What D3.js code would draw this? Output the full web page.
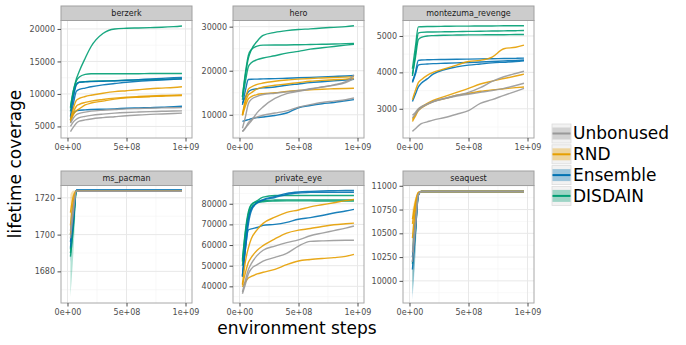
<!DOCTYPE html>
<html>
<head>
<meta charset="utf-8">
<script src="https://cdn.jsdelivr.net/npm/d3@7"></script>
<style>
  body { margin: 0; background: #fff; }
  svg { font-family: "DejaVu Sans", sans-serif; }
</style>
</head>
<body>
<div id="main-chart"></div>
<script>
// environment steps shared by every run
const steps = [2.5e7, 5e7, 7.5e7, 1e8, 1.5e8, 2e8, 3e8, 4e8, 5e8, 6e8, 7e8, 8e8, 9e8, 9.7e8];

const seriesNames = ['Unbonused', 'RND', 'Ensemble', 'DISDAIN'];
const seriesColors = ['#999999', '#E69F00', '#0072B2', '#009E73'];

const xTicks = [0, 5e8, 1e9];

// one row per run: [series, lifetime coverage at each step]
const berzerk = [
  ['Unbonused', [4200, 4900, 5500, 5800, 6000, 6150, 6350, 6500, 6650, 6750, 6850, 6920, 7000, 7050]],
  ['Unbonused', [5000, 5700, 6100, 6350, 6550, 6700, 6900, 7050, 7150, 7220, 7280, 7330, 7380, 7400]],
  ['Unbonused', [5500, 6300, 6800, 7000, 7200, 7350, 7500, 7600, 7700, 7750, 7800, 7850, 7880, 7900]],
  ['RND', [6000, 7800, 9000, 9300, 9600, 9800, 10100, 10350, 10500, 10650, 10800, 10900, 11000, 11100]],
  ['RND', [5800, 7200, 8100, 8400, 8700, 8900, 9150, 9350, 9500, 9600, 9680, 9750, 9820, 9860]],
  ['RND', [5600, 6800, 7400, 7700, 8300, 8600, 8900, 9200, 9400, 9500, 9580, 9650, 9720, 9760]],
  ['Ensemble', [6500, 9500, 11400, 11800, 11850, 11900, 11950, 12000, 12100, 12200, 12300, 12400, 12500, 12550]],
  ['Ensemble', [6000, 8500, 10400, 10700, 10900, 11100, 11400, 11600, 11800, 11950, 12050, 12150, 12250, 12300]],
  ['Ensemble', [6200, 7000, 7400, 7500, 7550, 7600, 7650, 7700, 7800, 7850, 7900, 7950, 8050, 8100]],
  ['DISDAIN', [8000, 10500, 12300, 13500, 15500, 17300, 19300, 20000, 20100, 20150, 20200, 20250, 20350, 20450]],
  ['DISDAIN', [7800, 10500, 12000, 12600, 13000, 13100, 13100, 13100, 13100, 13100, 13150, 13150, 13150, 13150]],
  ['DISDAIN', [7300, 9800, 11500, 11800, 11900, 11950, 12000, 12050, 12100, 12150, 12200, 12250, 12300, 12350]]
];

const hero = [
  ['Unbonused', [6200, 7000, 7800, 8600, 10500, 11800, 13700, 14800, 15300, 15800, 16300, 16800, 17500, 19000]],
  ['Unbonused', [6950, 9500, 12500, 13500, 14200, 14600, 14900, 15200, 15500, 15900, 16300, 16700, 17300, 18200]],
  ['Unbonused', [6200, 7000, 8200, 8900, 9500, 9900, 10400, 10900, 11700, 12300, 12800, 13100, 13400, 13800]],
  ['RND', [10000, 13500, 15800, 16300, 16900, 17200, 17600, 17900, 18100, 18250, 18350, 18450, 18550, 18650]],
  ['RND', [10000, 12800, 14500, 15000, 15900, 16300, 16700, 17000, 17300, 17600, 17800, 17950, 18100, 18300]],
  ['RND', [9800, 12000, 13600, 14100, 14600, 14800, 15000, 15300, 15500, 15650, 15800, 15900, 15980, 16030]],
  ['Ensemble', [12250, 15500, 18000, 18070, 18100, 18150, 18200, 18300, 18400, 18500, 18600, 18700, 18800, 18900]],
  ['Ensemble', [12600, 14000, 15200, 15650, 15900, 16100, 16300, 16700, 17000, 17300, 17500, 17700, 17900, 18050]],
  ['Ensemble', [8500, 8700, 8900, 9100, 9350, 9500, 9850, 10400, 11600, 12100, 12500, 12800, 13200, 13450]],
  ['DISDAIN', [14150, 19000, 22800, 24700, 26700, 28000, 28700, 29100, 29350, 29500, 29700, 29850, 30000, 30200]],
  ['DISDAIN', [14000, 19500, 23500, 24800, 25600, 25800, 25850, 25850, 25900, 25950, 26000, 26050, 26150, 26200]],
  ['DISDAIN', [13400, 17500, 20900, 21800, 22500, 22900, 23400, 24000, 24400, 24900, 25200, 25500, 25800, 26000]]
];

const montezuma = [
  ['Unbonused', [2820, 2900, 3000, 3060, 3130, 3200, 3290, 3370, 3450, 3580, 3750, 3880, 3970, 4030]],
  ['Unbonused', [2750, 2850, 2960, 3030, 3120, 3190, 3280, 3350, 3400, 3450, 3500, 3560, 3640, 3700]],
  ['Unbonused', [2380, 2450, 2530, 2590, 2640, 2690, 2760, 2850, 2950, 3150, 3250, 3370, 3480, 3560]],
  ['RND', [3250, 3500, 3720, 3800, 3920, 4000, 4100, 4200, 4300, 4330, 4420, 4650, 4690, 4750]],
  ['RND', [2700, 2850, 2980, 3050, 3150, 3230, 3340, 3450, 3560, 3680, 3760, 3830, 3900, 3950]],
  ['RND', [2650, 2800, 2950, 3020, 3120, 3200, 3280, 3370, 3420, 3480, 3520, 3550, 3580, 3600]],
  ['Ensemble', [3750, 4000, 4330, 4340, 4345, 4350, 4355, 4360, 4365, 4370, 4375, 4380, 4385, 4390]],
  ['Ensemble', [3720, 3950, 4200, 4220, 4230, 4240, 4250, 4260, 4270, 4285, 4300, 4315, 4330, 4340]],
  ['Ensemble', [3200, 3400, 3600, 3700, 3820, 3950, 4080, 4150, 4200, 4230, 4260, 4280, 4300, 4320]],
  ['DISDAIN', [4100, 4700, 5250, 5255, 5260, 5260, 5265, 5270, 5270, 5275, 5275, 5280, 5280, 5280]],
  ['DISDAIN', [3900, 4500, 5080, 5100, 5110, 5110, 5115, 5120, 5125, 5130, 5135, 5140, 5145, 5150]],
  ['DISDAIN', [3950, 4400, 4900, 4960, 5000, 5010, 5020, 5025, 5030, 5030, 5035, 5035, 5040, 5040]]
];

const msPacman = [
  ['Unbonused', [1698, 1712, 1723.6, 1723.6, 1723.6, 1723.6, 1723.6, 1723.6, 1723.6, 1723.6, 1723.6, 1723.6, 1723.6, 1723.6]],
  ['Unbonused', [1702, 1715, 1723.6, 1723.6, 1723.6, 1723.6, 1723.6, 1723.6, 1723.6, 1723.6, 1723.6, 1723.6, 1723.6, 1723.6]],
  ['RND', [1705, 1718, 1723.6, 1723.6, 1723.6, 1723.6, 1723.6, 1723.6, 1723.6, 1723.6, 1723.6, 1723.6, 1723.6, 1723.6]],
  ['RND', [1712, 1721, 1723.6, 1723.6, 1723.6, 1723.6, 1723.6, 1723.6, 1723.6, 1723.6, 1723.6, 1723.6, 1723.6, 1723.6]],
  ['RND', [1700, 1716, 1723.6, 1723.6, 1723.6, 1723.6, 1723.6, 1723.6, 1723.6, 1723.6, 1723.6, 1723.6, 1723.6, 1723.6]],
  ['Ensemble', [1700, 1712, 1724.2, 1724.2, 1724.2, 1724.2, 1724.2, 1724.2, 1724.2, 1724.2, 1724.2, 1724.2, 1724.2, 1724.2]],
  ['Ensemble', [1693, 1708, 1724.2, 1724.2, 1724.2, 1724.2, 1724.2, 1724.2, 1724.2, 1724.2, 1724.2, 1724.2, 1724.2, 1724.2]],
  ['Ensemble', [1696, 1710, 1724.2, 1724.2, 1724.2, 1724.2, 1724.2, 1724.2, 1724.2, 1724.2, 1724.2, 1724.2, 1724.2, 1724.2]],
  ['DISDAIN', [1690, 1706, 1723.6, 1723.6, 1723.6, 1723.6, 1723.6, 1723.6, 1723.6, 1723.6, 1723.6, 1723.6, 1723.6, 1723.6]],
  ['DISDAIN', [1688, 1704, 1723.6, 1723.6, 1723.6, 1723.6, 1723.6, 1723.6, 1723.6, 1723.6, 1723.6, 1723.6, 1723.6, 1723.6]],
  ['DISDAIN', [1692, 1708, 1723.6, 1723.6, 1723.6, 1723.6, 1723.6, 1723.6, 1723.6, 1723.6, 1723.6, 1723.6, 1723.6, 1723.6]]
];

const privateEye = [
  ['Unbonused', [37300, 43000, 48000, 51000, 55000, 57500, 59500, 61200, 62500, 64500, 65800, 67000, 68200, 69200]],
  ['Unbonused', [36400, 41000, 46000, 48500, 50500, 52200, 54000, 56000, 59500, 61800, 62000, 62200, 62300, 62300]],
  ['RND', [41000, 52000, 58500, 63000, 67500, 70500, 73500, 75800, 77000, 78500, 79500, 80500, 81500, 82100]],
  ['RND', [40500, 46500, 51500, 54000, 57500, 59700, 63000, 65800, 67200, 68000, 69000, 69800, 70300, 70600]],
  ['RND', [39700, 42000, 44000, 44800, 46000, 46800, 48200, 50500, 52300, 53000, 53500, 53900, 54500, 55500]],
  ['Ensemble', [44500, 58000, 70000, 76500, 80500, 82000, 83500, 85000, 85700, 86000, 86200, 86300, 86400, 86450]],
  ['Ensemble', [45300, 60000, 72500, 77500, 80500, 81800, 83000, 84500, 85200, 85500, 85600, 85600, 85600, 85600]],
  ['Ensemble', [45000, 58000, 67300, 67800, 68500, 69500, 70000, 71000, 72500, 73300, 74300, 75500, 76500, 77300]],
  ['DISDAIN', [52000, 66000, 75000, 79500, 81500, 83200, 84000, 84000, 84000, 84000, 84000, 84000, 84000, 84000]],
  ['DISDAIN', [53000, 67000, 76000, 79500, 81000, 81500, 81800, 81900, 81900, 81900, 81900, 81900, 81900, 81900]],
  ['DISDAIN', [50000, 64000, 73000, 78000, 80500, 81000, 81300, 81400, 81400, 81400, 81300, 81300, 81300, 81300]]
];

const seaquest = [
  ['Unbonused', [10200, 10550, 10900, 10940, 10940, 10940, 10940, 10940, 10940, 10940, 10940, 10940, 10940, 10940]],
  ['Unbonused', [10300, 10600, 10910, 10940, 10940, 10940, 10940, 10940, 10940, 10940, 10940, 10940, 10940, 10940]],
  ['RND', [10450, 10750, 10920, 10940, 10940, 10940, 10940, 10940, 10940, 10940, 10940, 10940, 10940, 10940]],
  ['RND', [10600, 10800, 10925, 10940, 10940, 10940, 10940, 10940, 10940, 10940, 10940, 10940, 10940, 10940]],
  ['RND', [10650, 10830, 10930, 10940, 10940, 10940, 10940, 10940, 10940, 10940, 10940, 10940, 10940, 10940]],
  ['Ensemble', [10120, 10500, 10900, 10940, 10940, 10940, 10940, 10940, 10940, 10940, 10940, 10940, 10940, 10940]],
  ['Ensemble', [10200, 10550, 10905, 10940, 10940, 10940, 10940, 10940, 10940, 10940, 10940, 10940, 10940, 10940]],
  ['Ensemble', [10250, 10600, 10910, 10940, 10940, 10940, 10940, 10940, 10940, 10940, 10940, 10940, 10940, 10940]],
  ['DISDAIN', [10180, 10520, 10900, 10940, 10940, 10940, 10940, 10940, 10940, 10940, 10940, 10940, 10940, 10940]]
];

// ribbons visible at the start of the flat games: [series, low, high] for the first steps
const msPacmanBands = [
  ['DISDAIN', [1666, 1690, 1722], [1705, 1716, 1724]],
  ['Ensemble', [1685, 1700, 1723], [1708, 1718, 1724]],
  ['RND', [1698, 1712, 1723], [1722, 1724, 1724]],
  ['Unbonused', [1692, 1706, 1723], [1712, 1720, 1724]]
];
const seaquestBands = [
  ['DISDAIN', [9850, 10300, 10880, 10940], [10400, 10700, 10930, 10940]],
  ['Ensemble', [9800, 10250, 10870, 10940], [10400, 10750, 10930, 10940]],
  ['Unbonused', [9950, 10350, 10880, 10940], [10500, 10750, 10930, 10940]],
  ['RND', [10250, 10600, 10900, 10940], [10750, 10880, 10940, 10940]]
];

const berzerkTicks = [5000, 10000, 15000, 20000];
const heroTicks = [10000, 20000, 30000];
const montezumaTicks = [3000, 4000, 5000];
const msPacmanTicks = [1680, 1700, 1720];
const privateEyeTicks = [40000, 50000, 60000, 70000, 80000];
const seaquestTicks = [10000, 10250, 10500, 10750, 11000];

const panels = [
  {title: 'berzerk', runs: berzerk, ticks: berzerkTicks, domain: [3220, 21300], col: 0, row: 0},
  {title: 'hero', runs: hero, ticks: heroTicks, domain: [4730, 31400], col: 1, row: 0},
  {title: 'montezuma_revenge', runs: montezuma, ticks: montezumaTicks, domain: [2197, 5425], col: 2, row: 0},
  {title: 'ms_pacman', runs: msPacman, ticks: msPacmanTicks, domain: [1662.8, 1726.7], col: 0, row: 1, bands: msPacmanBands},
  {title: 'private_eye', runs: privateEye, ticks: privateEyeTicks, domain: [31930, 88840], col: 1, row: 1},
  {title: 'seaquest', runs: seaquest, ticks: seaquestTicks, domain: [9767, 11003], col: 2, row: 1, bands: seaquestBands}
];

let width = 686, height = 345;
let colX = [61, 233, 403], panelW = 131;
let stripTop = [6, 171], stripH = 14.5, panelH = 117.5;

let color = d3.scaleOrdinal().domain(seriesNames).range(seriesColors);
let drawOrder = ['DISDAIN', 'Ensemble', 'RND', 'Unbonused'];

// R style scientific labels: 5e+08
function sci(v) {
  let parts = d3.format('.0e')(v).split('e');
  return parts[0] + 'e' + parts[1][0] + parts[1].slice(1).padStart(2, '0');
}

let svg = d3.select('#main-chart')
  .append('svg')
  .attr('width', width)
  .attr('height', height);

panels.forEach(p => {
  let left = colX[p.col], top = stripTop[p.row] + stripH;

  let x = d3.scaleLinear().domain([-5.5e7, 1.055e9]).range([0, panelW]);
  let y = d3.scaleLinear().domain(p.domain).range([panelH, 0]);

  let g = svg.append('g').attr('transform', `translate(${left},${top})`);

  g.append('rect')
    .attr('width', panelW).attr('height', panelH)
    .attr('fill', '#fff');

  // minor grid
  let xMinor = [2.5e8, 7.5e8];
  let yMinor = d3.pairs(p.ticks).map(d => (d[0] + d[1]) / 2);
  let step = p.ticks[1] - p.ticks[0];
  yMinor.unshift(p.ticks[0] - step / 2);
  yMinor.push(p.ticks[p.ticks.length - 1] + step / 2);
  yMinor = yMinor.filter(v => v > p.domain[0] && v < p.domain[1]);

  g.selectAll('.xminor').data(xMinor).join('line')
    .attr('x1', d => x(d)).attr('x2', d => x(d))
    .attr('y1', 0).attr('y2', panelH)
    .attr('stroke', '#f4f4f4').attr('stroke-width', 0.6);
  g.selectAll('.yminor').data(yMinor).join('line')
    .attr('y1', d => y(d)).attr('y2', d => y(d))
    .attr('x1', 0).attr('x2', panelW)
    .attr('stroke', '#f4f4f4').attr('stroke-width', 0.6);

  // major grid
  g.append('g').selectAll('line').data(xTicks).join('line')
    .attr('x1', d => x(d)).attr('x2', d => x(d))
    .attr('y1', 0).attr('y2', panelH)
    .attr('stroke', '#e8e8e8').attr('stroke-width', 1);
  g.append('g').selectAll('line').data(p.ticks.filter(v => v <= p.domain[1])).join('line')
    .attr('y1', d => y(d)).attr('y2', d => y(d))
    .attr('x1', 0).attr('x2', panelW)
    .attr('stroke', '#e8e8e8').attr('stroke-width', 1);

  let clipId = 'clip-' + p.title;
  g.append('clipPath').attr('id', clipId)
    .append('rect').attr('width', panelW).attr('height', panelH);
  let plot = g.append('g').attr('clip-path', `url(#${clipId})`);

  // ribbons
  if (p.bands) {
    let area = d3.area()
      .x((d, i) => x(steps[i]))
      .y0(d => y(d[0]))
      .y1(d => y(d[1]))
      .curve(d3.curveMonotoneX);
    p.bands.forEach(b => {
      let pts = b[1].map((v, i) => [v, b[2][i]]);
      plot.append('path')
        .attr('d', area(pts))
        .attr('fill', color(b[0]))
        .attr('fill-opacity', 0.3);
    });
  }

  let line = d3.line()
    .x((d, i) => x(steps[i]))
    .y(d => y(d))
    .curve(d3.curveMonotoneX);

  let runs = drawOrder.flatMap(s => p.runs.filter(r => r[0] === s));
  plot.selectAll('.run').data(runs).join('path')
    .attr('class', 'run')
    .attr('d', d => line(d[1]))
    .attr('fill', 'none')
    .attr('stroke', d => color(d[0]))
    .attr('stroke-width', 1.4)
    .attr('stroke-opacity', 0.9);

  g.append('rect')
    .attr('width', panelW).attr('height', panelH)
    .attr('fill', 'none')
    .attr('stroke', '#a8a8a8').attr('stroke-width', 1);

  // axes
  let xAxis = g.append('g')
    .attr('transform', `translate(0,${panelH})`)
    .call(d3.axisBottom(x).tickValues(xTicks).tickFormat(sci).tickSize(3.5).tickPadding(2.5));
  let yAxis = g.append('g')
    .call(d3.axisLeft(y).tickValues(p.ticks).tickFormat(d3.format('d')).tickSize(3.5).tickPadding(2.5));
  [xAxis, yAxis].forEach(a => {
    a.select('.domain').remove();
    a.selectAll('line').attr('stroke', '#4d4d4d');
    a.selectAll('text')
      .attr('fill', '#4d4d4d')
      .style('font-size', '8px')
      .style('font-family', '"DejaVu Sans", sans-serif');
  });

  // strip
  let strip = svg.append('g').attr('transform', `translate(${left},${stripTop[p.row]})`);
  strip.append('rect')
    .attr('width', panelW).attr('height', stripH)
    .attr('fill', '#cccccc')
    .attr('stroke', '#a0a0a0').attr('stroke-width', 1);
  strip.append('text')
    .attr('x', panelW / 2).attr('y', stripH / 2)
    .attr('dy', '0.35em')
    .attr('text-anchor', 'middle')
    .style('font-size', '8px')
    .attr('fill', '#1a1a1a')
    .text(p.title);
});

// axis titles
svg.append('text')
  .attr('x', 297).attr('y', 334)
  .attr('text-anchor', 'middle')
  .style('font-size', '17px')
  .text('environment steps');

svg.append('text')
  .attr('transform', 'translate(21,164) rotate(-90)')
  .attr('text-anchor', 'middle')
  .style('font-size', '17px')
  .text('lifetime coverage');

// legend
let legend = svg.append('g').attr('transform', 'translate(552,124)');
let keys = legend.selectAll('.key').data(seriesNames).join('g')
  .attr('class', 'key')
  .attr('transform', (d, i) => `translate(0,${i * 20.8})`);
keys.append('rect')
  .attr('width', 19).attr('height', 19)
  .attr('fill', '#f2f2f2')
  .attr('stroke', '#dddddd').attr('stroke-width', 0.8);
keys.append('rect')
  .attr('x', 0.5).attr('y', 3.5)
  .attr('width', 18).attr('height', 12)
  .attr('fill', d => color(d))
  .attr('fill-opacity', 0.35);
keys.append('line')
  .attr('x1', 0.5).attr('x2', 18.5)
  .attr('y1', 9.5).attr('y2', 9.5)
  .attr('stroke', d => color(d))
  .attr('stroke-width', 2);
keys.append('text')
  .attr('x', 21).attr('y', 9.5)
  .attr('dy', '0.35em')
  .style('font-size', '17px')
  .text(d => d);
</script>
</body>
</html>
